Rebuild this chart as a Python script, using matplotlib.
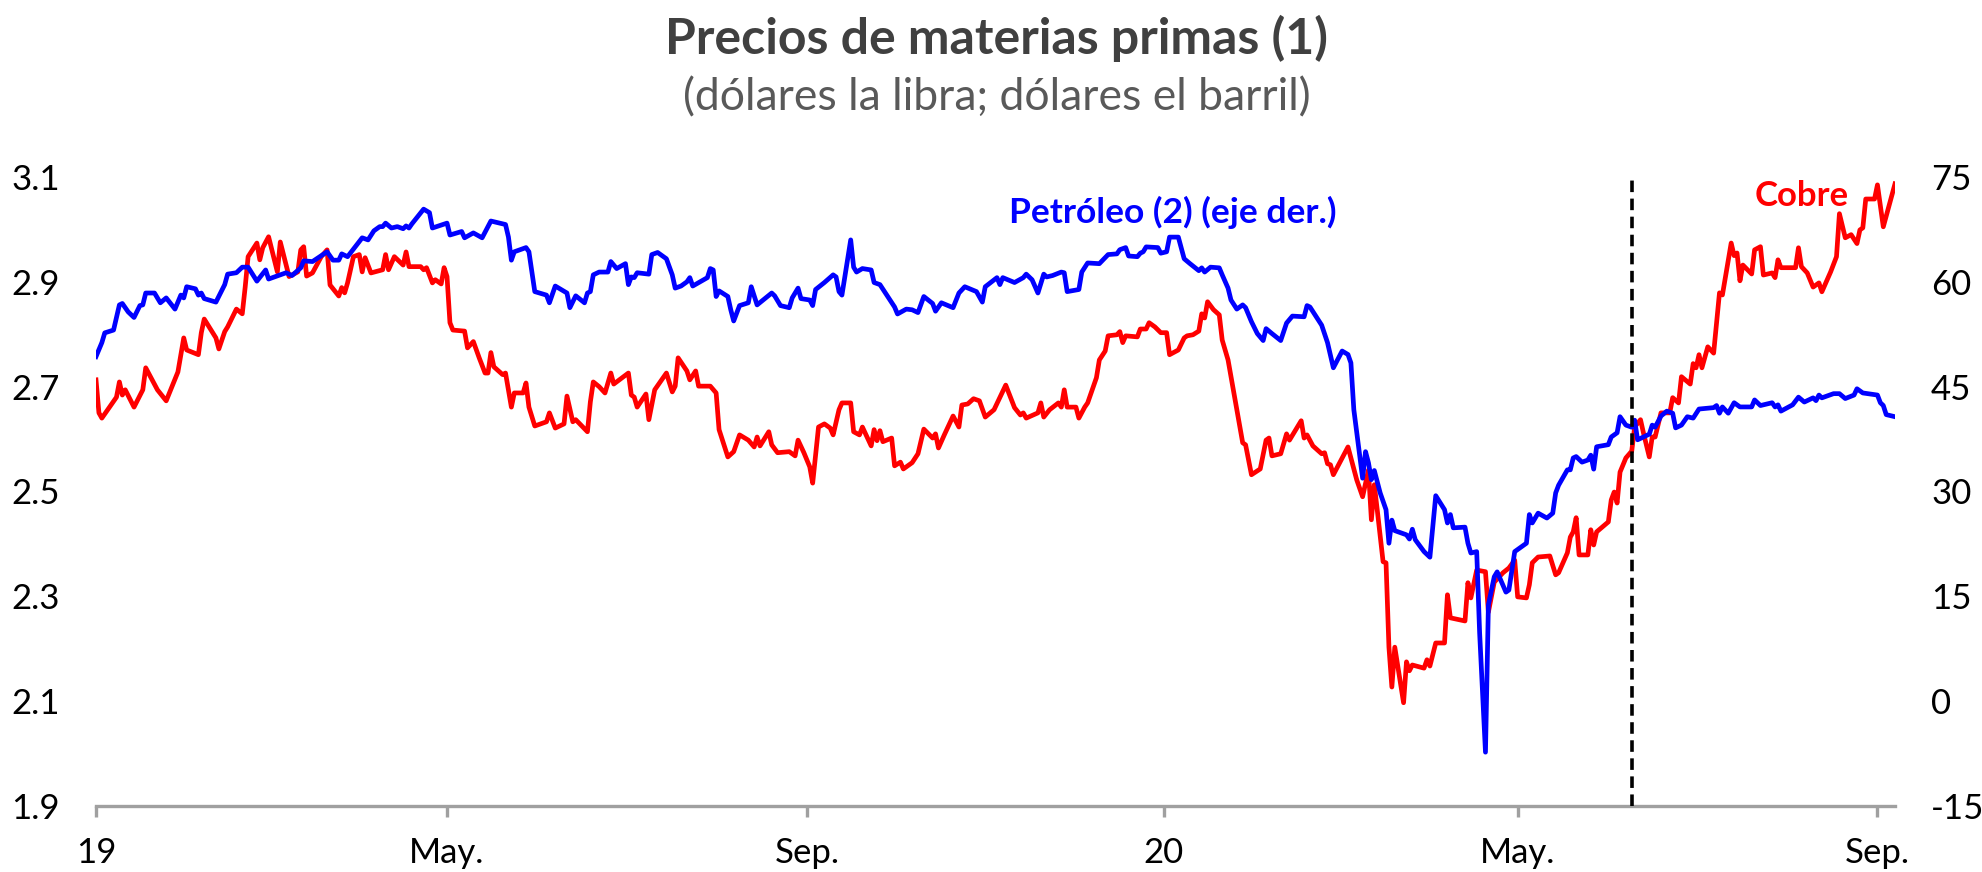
import matplotlib
matplotlib.use("Agg")
import matplotlib.pyplot as plt
import matplotlib.dates as mdates
import pandas as pd

plt.rcParams['font.family'] = ['Lato', 'DejaVu Sans']

START = "2019-01-01"

# Copper (US$/lb) -- days since START, value
cobre_dias = [0, 1, 2, 4, 7, 8, 9, 10, 13, 16, 17, 21, 24, 28, 30, 31, 35, 36, 37, 41, 42, 44, 45, 48, 50, 51, 52, 55, 56, 57, 59, 62, 63, 66, 69, 70, 71, 72, 74, 77, 79, 80, 83, 84, 85, 86, 88, 90, 91, 92, 94, 98, 99, 100, 102,
              105, 106, 107, 111, 112, 113, 115, 116, 118, 119, 120, 121, 122, 126, 127, 129, 131, 133, 134, 135, 136, 139, 140, 142, 143, 146, 147, 148, 150, 154, 155, 157, 160, 161, 163, 164, 168, 169, 170, 172, 174, 176, 177, 182, 183, 184, 185, 188, 189, 191, 195, 197, 198, 199, 202, 203,
              205, 206, 210, 212, 213, 216, 218, 220, 223, 225, 226, 227, 230, 231, 233, 237, 239, 240, 242, 244, 245, 247, 249, 251, 252, 254, 255, 258, 259, 261, 262, 265, 266, 267, 268, 269, 272, 273, 275, 276, 279, 281, 283, 286, 287, 288, 290, 293, 295, 296, 298, 300, 302, 304,
              307, 311, 314, 316, 317, 318, 322, 323, 324, 326, 329, 330, 331, 332, 335, 336, 338, 339, 342, 343, 345, 346, 349, 350, 351, 352, 356, 357, 359, 360, 362, 364, 366, 367, 370, 372, 373, 375, 377, 378, 379, 380, 382, 384, 385, 387, 389, 392, 393, 395, 398, 400, 401, 402, 405, 407, 408,
              412, 413, 414, 416, 419, 420, 421, 422, 423, 428, 431, 433, 435, 436, 437, 438, 440, 441, 442, 443, 444, 447, 448, 449, 450, 454, 455, 456, 458, 461, 462, 463, 468, 469, 470, 472, 475, 476, 478, 481, 483, 485, 486, 489, 490, 491, 493, 497, 499, 500, 503, 504, 505, 506, 507, 510, 511,
              512, 513, 517, 518, 519, 520, 521, 523, 525, 526, 528, 529, 531, 532, 533, 535, 538, 539, 541, 542, 545, 546, 547, 548, 549, 551, 553, 555, 556, 559, 560, 561, 562, 563, 566, 567, 569, 570, 573, 574, 575, 576, 581, 582, 583, 585, 587, 589, 590, 593, 595, 596, 598, 600, 602, 603, 604, 605, 608, 609, 611, 615]
cobre = [2.713, 2.650, 2.640, 2.656, 2.680, 2.709, 2.684, 2.694, 2.661, 2.694, 2.736, 2.694, 2.673, 2.728, 2.793, 2.770, 2.761, 2.803, 2.829, 2.793, 2.772, 2.805, 2.814, 2.848, 2.839, 2.890, 2.948, 2.974, 2.942, 2.965, 2.986, 2.919, 2.976, 2.910, 2.919, 2.961, 2.967, 2.911, 2.917, 2.948, 2.961, 2.894, 2.873, 2.889, 2.879, 2.898, 2.948, 2.952, 2.919, 2.946, 2.917, 2.923, 2.952, 2.923, 2.948,
         2.932, 2.957, 2.929, 2.929, 2.923, 2.927, 2.898, 2.904, 2.896, 2.927, 2.910, 2.822, 2.808, 2.806, 2.774, 2.786, 2.755, 2.726, 2.726, 2.765, 2.738, 2.723, 2.726, 2.661, 2.688, 2.688, 2.707, 2.661, 2.625, 2.633, 2.650, 2.621, 2.629, 2.682, 2.633, 2.637, 2.614, 2.671, 2.709, 2.700, 2.688, 2.726, 2.705, 2.726, 2.684, 2.680, 2.661, 2.686, 2.637, 2.694, 2.726, 2.690, 2.701, 2.755, 2.730, 2.713,
         2.730, 2.701, 2.701, 2.688, 2.618, 2.566, 2.576, 2.608, 2.598, 2.585, 2.604, 2.587, 2.614, 2.589, 2.574, 2.576, 2.568, 2.598, 2.574, 2.547, 2.516, 2.623, 2.629, 2.621, 2.608, 2.656, 2.669, 2.669, 2.614, 2.608, 2.623, 2.587, 2.618, 2.597, 2.616, 2.595, 2.602, 2.549, 2.556, 2.543, 2.555, 2.572, 2.619, 2.602, 2.610, 2.583, 2.608, 2.644, 2.623, 2.665, 2.667, 2.677, 2.673, 2.642,
         2.656, 2.703, 2.660, 2.646, 2.650, 2.640, 2.650, 2.669, 2.642, 2.656, 2.669, 2.661, 2.694, 2.661, 2.661, 2.640, 2.661, 2.669, 2.717, 2.751, 2.768, 2.797, 2.799, 2.805, 2.784, 2.797, 2.795, 2.810, 2.810, 2.822, 2.814, 2.803, 2.803, 2.761, 2.770, 2.793, 2.797, 2.799, 2.806, 2.839, 2.831, 2.862, 2.847, 2.837, 2.789, 2.751, 2.688, 2.593, 2.589, 2.532, 2.543, 2.598, 2.602, 2.568, 2.572, 2.610, 2.598,
         2.635, 2.602, 2.608, 2.587, 2.572, 2.574, 2.553, 2.551, 2.532, 2.585, 2.522, 2.490, 2.541, 2.446, 2.513, 2.465, 2.366, 2.364, 2.203, 2.127, 2.203, 2.097, 2.175, 2.158, 2.169, 2.163, 2.179, 2.167, 2.211, 2.211, 2.303, 2.259, 2.253, 2.326, 2.297, 2.350, 2.347, 2.270, 2.327, 2.345, 2.354, 2.369, 2.299, 2.297, 2.322, 2.364, 2.375, 2.377, 2.341, 2.345, 2.383, 2.413, 2.423, 2.450, 2.379, 2.379, 2.427,
         2.398, 2.423, 2.442, 2.484, 2.499, 2.478, 2.537, 2.564, 2.577, 2.623, 2.637, 2.612, 2.566, 2.604, 2.604, 2.650, 2.650, 2.679, 2.669, 2.719, 2.705, 2.744, 2.736, 2.761, 2.736, 2.776, 2.764, 2.879, 2.875, 2.974, 2.950, 2.955, 2.902, 2.932, 2.915, 2.961, 2.967, 2.913, 2.917, 2.908, 2.942, 2.927, 2.927, 2.965, 2.929, 2.917, 2.890, 2.898, 2.881, 2.919, 2.948, 3.030, 2.984, 2.990, 2.973, 2.999, 3.003, 3.058, 3.058, 3.085, 3.005, 3.087]

# Oil (US$/bbl) -- days since START, value
petroleo_dias = [0, 2, 3, 6, 8, 9, 11, 13, 15, 16, 17, 20, 22, 24, 27, 29, 30, 31, 34, 35, 36, 37, 41, 44, 45, 48, 50, 52, 55, 58, 59, 63, 65, 67, 70, 71, 74, 79, 81, 83, 84, 86, 91, 93, 95, 97, 98, 99, 101,
                 103, 105, 106, 107, 108, 112, 114, 115, 120, 121, 125, 126, 129, 132, 135, 140, 141, 142, 143, 147, 148, 150, 154, 155, 157, 161, 162, 164, 167, 168, 169, 170, 172, 175, 176, 178, 181, 182, 183, 184, 185, 189, 190, 192, 195, 197, 198, 200, 202, 203,
                 204, 209, 210, 211, 212, 213, 216, 217, 218, 220, 223, 224, 226, 231, 232, 234, 237, 238, 240, 241, 244, 245, 246, 249, 252, 253, 254, 255, 258, 259, 260, 262, 265, 266, 268, 273, 274, 277, 279, 281, 283, 286, 287, 289, 293, 295, 297, 301, 303, 304,
                 308, 309, 310, 314, 317, 318, 320, 322, 324, 325, 327, 330, 331, 332, 336, 337, 339, 343, 346, 349, 350, 352, 353, 356, 357, 358, 359, 363, 364, 366, 367, 370, 372, 374, 377, 378, 379, 381, 384, 385, 387, 388, 390, 392, 393, 395, 397, 399, 400, 402, 405, 407, 409,
                 413, 414, 415, 419, 421, 423, 426, 428, 429, 430, 433, 434, 435, 436, 437, 439, 441, 442, 443, 444, 448, 449, 450, 451, 454, 456, 458, 461, 462, 463, 464, 468, 469, 470, 472, 473, 475, 476, 478, 479, 482, 483, 485, 489, 490, 491, 493, 496, 498, 499, 500, 503, 504, 505, 506, 508, 510, 511, 512,
                 513, 517, 518, 520, 521, 523, 525, 526, 527, 531, 532, 533, 535, 537, 539, 540, 542, 544, 546, 548, 553, 554, 555, 556, 558, 560, 562, 566, 567, 569, 573, 574, 575, 576, 580, 582, 584, 587, 588, 589, 590, 594, 596, 598, 601, 602, 604, 609, 610, 611, 612, 615]
petroleo = [49.3, 51.3, 52.7, 53.1, 56.7, 56.9, 55.7, 54.9, 56.6, 56.7, 58.4, 58.4, 57.0, 57.7, 56.1, 58.1, 57.7, 59.3, 59.0, 58.1, 58.4, 57.6, 57.1, 59.6, 61.1, 61.3, 62.1, 62.1, 60.1, 61.7, 60.4, 61.0, 61.3, 60.9, 62.0, 63.0, 62.9, 64.3, 63.1, 63.1, 64.0, 63.6, 66.3, 66.0, 67.3, 67.9, 67.9, 68.4, 67.7,
            67.9, 67.6, 68.0, 67.7, 68.3, 70.4, 69.9, 67.7, 68.4, 66.7, 67.2, 66.3, 67.0, 66.3, 68.7, 68.2, 66.4, 63.1, 64.3, 64.9, 64.3, 58.6, 58.1, 57.0, 59.4, 58.4, 56.3, 58.0, 57.0, 58.4, 58.6, 61.0, 61.4, 61.4, 62.9, 61.9, 62.6, 59.6, 60.7, 60.6, 61.3, 61.1, 63.9, 64.2, 63.3, 61.0, 59.1, 59.4, 60.0, 60.6,
            59.4, 60.6, 61.9, 61.7, 57.9, 58.7, 57.9, 56.0, 54.4, 56.6, 57.0, 59.3, 56.7, 58.4, 58.0, 56.6, 56.3, 57.7, 59.1, 57.6, 57.4, 56.6, 58.9, 59.9, 61.0, 60.7, 58.6, 58.1, 66.0, 62.1, 61.4, 61.9, 61.7, 59.9, 59.6, 56.4, 55.4, 56.1, 56.0, 55.6, 57.9, 56.9, 55.8, 57.0, 56.3, 58.4, 59.3, 58.6, 57.1, 59.3,
            60.6, 59.6, 60.6, 59.9, 60.6, 61.1, 60.3, 58.4, 61.1, 60.7, 60.9, 61.4, 61.3, 58.6, 58.9, 61.4, 62.7, 62.6, 63.9, 64.0, 64.6, 64.9, 63.7, 63.6, 64.1, 64.3, 65.0, 64.9, 64.1, 64.3, 66.4, 66.4, 63.3, 62.6, 61.6, 62.0, 61.4, 62.1, 62.0, 61.0, 59.1, 57.4, 56.1, 56.7, 56.3, 54.3, 52.6, 51.6, 53.3, 52.6, 51.6, 54.1, 55.1,
            55.0, 56.6, 56.4, 53.8, 51.3, 47.7, 50.1, 49.6, 48.4, 41.7, 31.9, 35.7, 34.1, 31.7, 33.0, 29.8, 27.4, 22.6, 25.9, 24.4, 23.8, 23.2, 24.6, 23.1, 21.4, 20.6, 29.4, 27.4, 25.5, 26.7, 24.8, 24.9, 22.6, 21.2, 21.4, 9.8, -7.3, 13.8, 17.8, 18.5, 15.6, 15.9, 21.4, 22.6, 26.7, 25.5, 26.9, 26.2, 26.9, 29.8, 30.9, 33.1, 33.1, 34.8, 35.0, 34.2, 34.5, 35.2, 33.2,
            36.4, 36.7, 37.8, 38.4, 40.7, 39.5, 39.2, 40.2, 37.4, 38.2, 39.5, 39.2, 40.8, 41.5, 41.2, 39.1, 39.5, 40.7, 40.5, 41.8, 42.0, 42.3, 41.2, 42.1, 41.2, 42.7, 42.1, 42.1, 43.1, 42.3, 42.7, 42.1, 42.4, 41.5, 42.4, 43.5, 42.8, 43.4, 43.0, 43.8, 43.4, 44.0, 44.0, 43.3, 43.8, 44.7, 44.1, 43.8, 42.7, 42.3, 41.0, 40.7]

corte_dias = 525          # dashed reference line (previous report cut-off)
fin_dias = 615
tick_fechas = ["2019-01-01", "2019-05-01", "2019-09-01", "2020-01-01", "2020-05-01", "2020-09-01"]
tick_labels = ["19", "May.", "Sep.", "20", "May.", "Sep."]
yticks_izq = [1.9, 2.1, 2.3, 2.5, 2.7, 2.9, 3.1]
yticks_der = [-15, 0, 15, 30, 45, 60, 75]

t0 = pd.Timestamp(START)
x_cobre = t0 + pd.to_timedelta(cobre_dias, unit="D")
x_petro = t0 + pd.to_timedelta(petroleo_dias, unit="D")

fig = plt.figure(figsize=(19.82, 8.72), dpi=100)
ax = fig.add_axes([96/1982, 1-806/872, (1895-96)/1982, (806-177)/872])
ax2 = ax.twinx()

ax.plot(x_cobre, cobre, color="#FF0000", lw=3.4, solid_joinstyle="round")
ax2.plot(x_petro, petroleo, color="#0000FF", lw=3.4, solid_joinstyle="round")

xc = t0 + pd.Timedelta(days=corte_dias)
ax2.axvline(xc, color="black", lw=2.6, linestyle=(0, (3.2, 1.8)), ymin=0, ymax=1)

ax.set_xlim(t0, t0 + pd.Timedelta(days=fin_dias))
ax.set_ylim(1.9, 3.1)
ax2.set_ylim(-15, 75)
ax.set_yticks(yticks_izq)
ax.set_yticklabels([f"{v:.1f}" for v in yticks_izq])
ax2.set_yticks(yticks_der)
ax2.set_yticklabels([f"{v:d}" for v in yticks_der])
ax.set_xticks(pd.to_datetime(tick_fechas))
ax.set_xticklabels(tick_labels)

for a in (ax, ax2):
    for s in ("top", "left", "right", "bottom"):
        a.spines[s].set_visible(False)
ax.spines["bottom"].set_visible(True)
ax.spines["bottom"].set_color("#a0a0a0")
ax.spines["bottom"].set_linewidth(2.4)

ax.tick_params(axis="y", length=0, pad=26, labelsize=25, labelcolor="black")
ax2.tick_params(axis="y", length=0, pad=26, labelsize=25, labelcolor="black")
ax.tick_params(axis="x", length=8, width=2.4, color="#a0a0a0", pad=14, labelsize=25, direction="out")

ax2.text(0.5075, 0.943, "Petróleo (2) (eje der.)", transform=ax.transAxes, color="#0000FF",
         fontsize=25.5, fontweight="bold", ha="left", va="center")
ax2.text(0.948, 0.970, "Cobre", transform=ax.transAxes, color="#FF0000",
         fontsize=25, fontweight="bold", ha="center", va="center")

fig.text(0.503, 1-38/872, "Precios de materias primas (1)", ha="center", va="center",
         fontsize=36, fontweight="bold", color="#404040")
fig.text(0.503, 1-98/872, "(dólares la libra; dólares el barril)", ha="center", va="center",
         fontsize=32, color="#595959")

fig.savefig("out.png", dpi=100)
